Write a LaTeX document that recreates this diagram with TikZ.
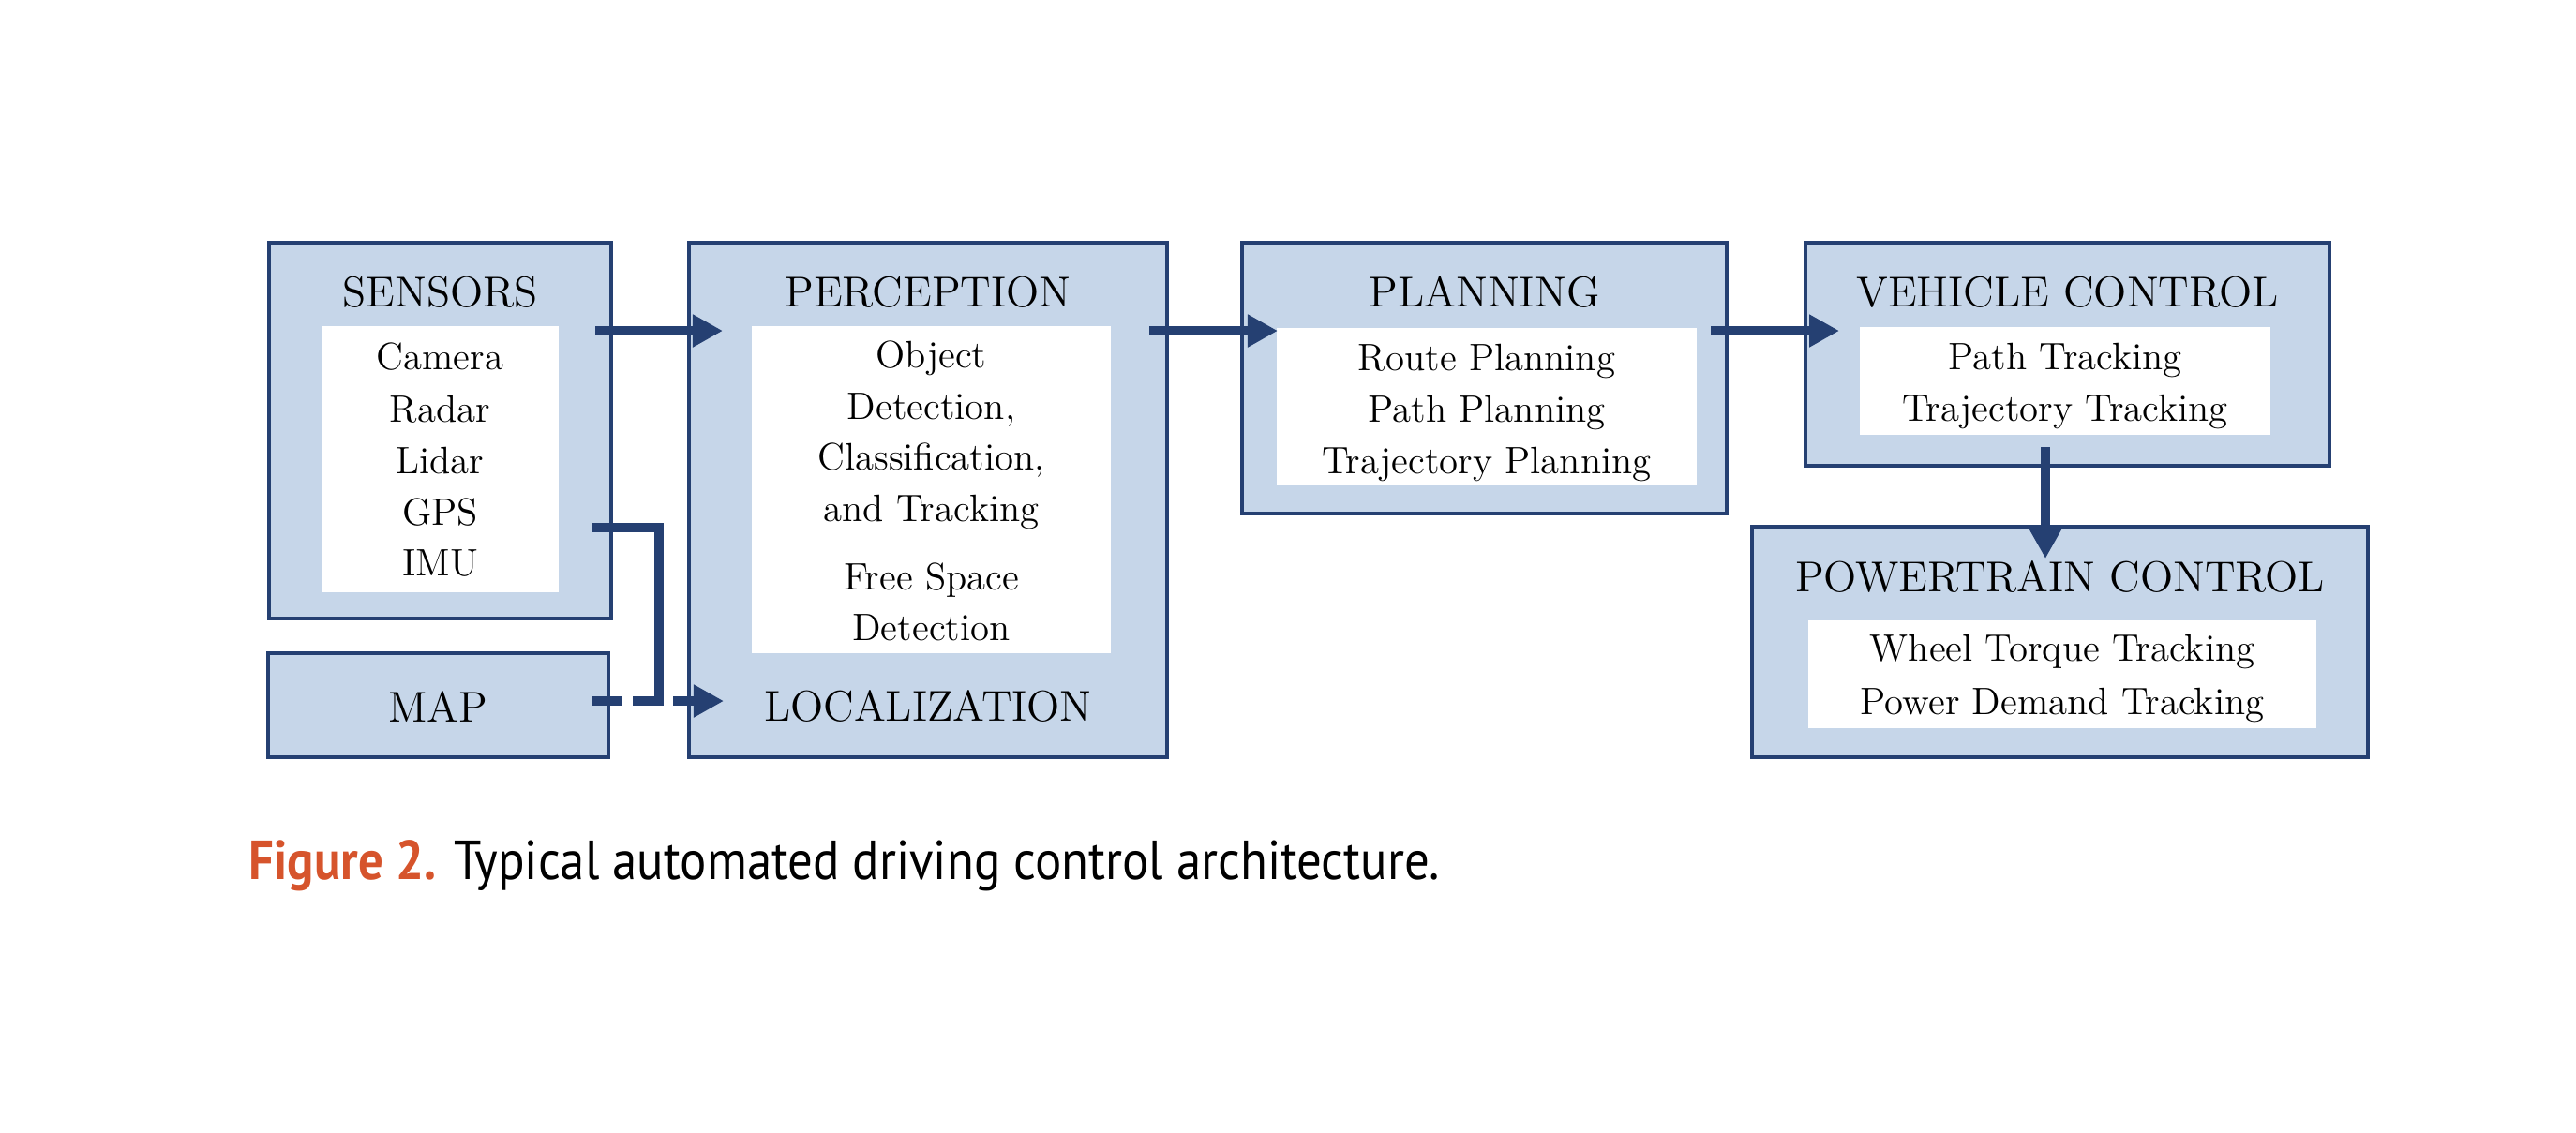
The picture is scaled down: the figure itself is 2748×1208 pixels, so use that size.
\documentclass[tikz,border=0pt]{standalone}
\usepackage{fontspec}
\newfontfamily\capfont[FakeStretch=0.9]{PT Sans}
\usetikzlibrary{arrows.meta}
\definecolor{navy}{RGB}{37,64,114}
\definecolor{boxfill}{RGB}{198,214,233}
\definecolor{figred}{RGB}{214,84,44}
\tikzset{
  outerbox/.style={draw=navy, line width=1.14pt, fill=boxfill, inner sep=0pt, rectangle},
  innerbox/.style={fill=white, draw=none, inner sep=0pt, rectangle},
  ttl/.style={font=\fontsize{13.1pt}{15pt}\selectfont, anchor=base, inner sep=0pt},
  txt/.style={font=\fontsize{11.6pt}{14pt}\selectfont, anchor=base, inner sep=0pt},
  conn/.style={draw=navy, line width=2.85pt, -{Triangle[length=0.32cm,width=0.33cm]}},
  plainconn/.style={draw=navy, line width=2.85pt},
  dashconn/.style={conn, dash pattern=on 0.31cm off 0.12cm},
}
\begin{document}
\begin{tikzpicture}[x=0.01cm,y=-0.01cm]
\useasboundingbox[fill=white] (0,0) rectangle (2748,1208);

% outer boxes
\node[outerbox, minimum width=3.65cm, minimum height=4.01cm] (sensors) at (469.5,459.5) {};
\node[outerbox, minimum width=3.63cm, minimum height=1.11cm] (map) at (467.5,752.5) {};
\node[outerbox, minimum width=5.10cm, minimum height=5.49cm] (perc) at (990,533.5) {};
\node[outerbox, minimum width=5.17cm, minimum height=2.89cm] (plan) at (1583.5,403.5) {};
\node[outerbox, minimum width=5.59cm, minimum height=2.38cm] (veh) at (2205.5,378) {};
\node[outerbox, minimum width=6.57cm, minimum height=2.46cm] (pow) at (2197.5,685) {};

% inner white boxes
\node[innerbox, minimum width=2.53cm, minimum height=2.84cm] (sin) at (469.5,490) {};
\node[innerbox, minimum width=3.83cm, minimum height=3.49cm] (pin) at (993.5,522.5) {};
\node[innerbox, minimum width=4.48cm, minimum height=1.68cm] (plin) at (1586,434) {};
\node[innerbox, minimum width=4.38cm, minimum height=1.15cm] (vin) at (2203,406.5) {};
\node[innerbox, minimum width=5.42cm, minimum height=1.15cm] (powin) at (2200,719.5) {};

% titles
\node[ttl] (tsens) at (469.5,327) {SENSORS};
\node[ttl] (tmap) at (467.5,770) {MAP};
\node[ttl] (tperc) at (990,327) {PERCEPTION};
\node[ttl] (tloc) at (990,769) {LOCALIZATION};
\node[ttl] (tplan) at (1583.5,327) {PLANNING};
\node[ttl] (tveh) at (2205.5,327) {VEHICLE CONTROL};
\node[ttl] (tpow) at (2197.5,631) {POWERTRAIN CONTROL};

% sensor list
\node[txt] (s1) at (469.5,394) {Camera};
\node[txt] (s2) at (469.5,450) {Radar};
\node[txt] (s3) at (469.5,505) {Lidar};
\node[txt] (s4) at (469.5,560) {GPS};
\node[txt] (s5) at (469.5,614) {IMU};

% perception list
\node[txt] (p1) at (993.5,392) {Object};
\node[txt] (p2) at (993.5,447) {Detection,};
\node[txt] (p3) at (993.5,501) {Classification,};
\node[txt] (p4) at (993.5,556) {and Tracking};
\node[txt] (p5) at (993.5,629) {Free Space};
\node[txt] (p6) at (993.5,683) {Detection};

% planning list
\node[txt] (l1) at (1586,395) {Route Planning};
\node[txt] (l2) at (1586,450) {Path Planning};
\node[txt] (l3) at (1586,505) {Trajectory Planning};

% vehicle control list
\node[txt] (v1) at (2203,394) {Path Tracking};
\node[txt] (v2) at (2203,449) {Trajectory Tracking};

% powertrain list
\node[txt] (w1) at (2200,705) {Wheel Torque Tracking};
\node[txt] (w2) at (2200,762) {Power Demand Tracking};

% connector end points
\coordinate (sOut) at (635,353);
\coordinate (pIn) at (771,353);
\coordinate (pOut) at (1226,353);
\coordinate (plIn) at (1363,353);
\coordinate (plOut) at (1825,353);
\coordinate (vIn) at (1962,353);
\coordinate (vOut) at (2182,477);
\coordinate (pwIn) at (2182,596);
\coordinate (gOut) at (632,563);
\coordinate (gJoin) at (703,753);
\coordinate (mOut) at (632,748);
\coordinate (lIn) at (772,748);

\draw[conn] (sOut) -- (pIn);
\draw[conn] (pOut) -- (plIn);
\draw[conn] (plOut) -- (vIn);
\draw[conn] (vOut) -- (pwIn);
\draw[plainconn] (gOut) -| (gJoin);
\draw[dashconn] (mOut) -- (lIn);

% caption
\node[anchor=base west, inner sep=0pt, font=\capfont\fontsize{16.7pt}{20pt}\selectfont] (cap) at (265,938)
  {\textcolor{figred}{\bfseries Figure 2.} Typical automated driving control architecture.};
\end{tikzpicture}
\end{document}
